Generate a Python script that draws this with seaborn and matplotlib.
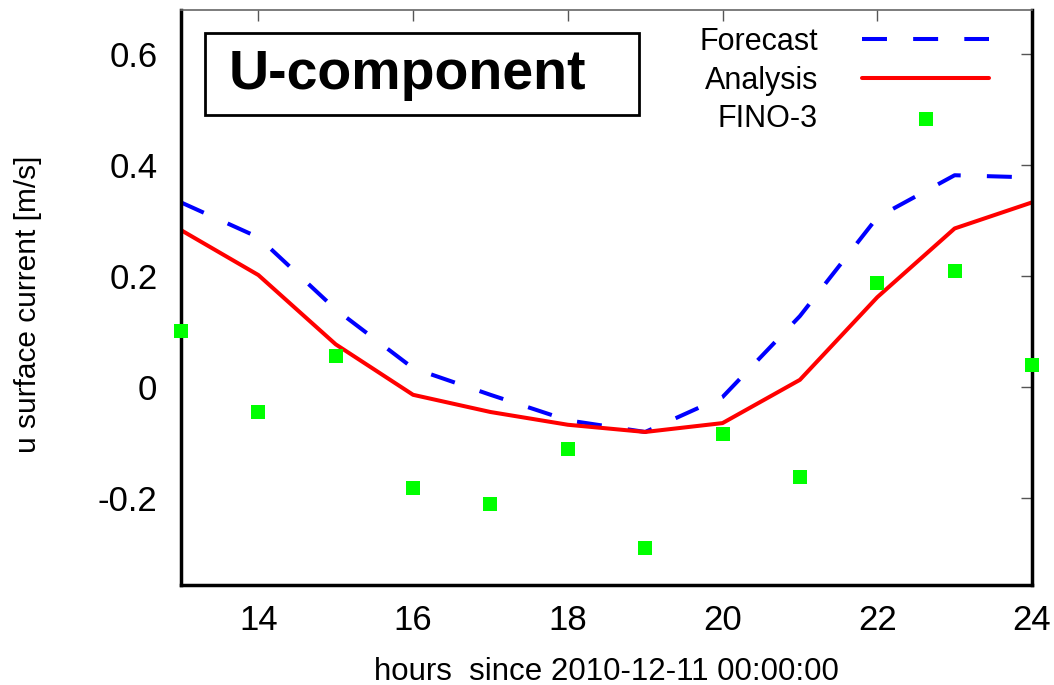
import matplotlib
matplotlib.use("Agg")
import matplotlib.pyplot as plt
import seaborn as sns
import pandas as pd
from matplotlib.patches import Rectangle

hours = [13, 14, 15, 16, 17, 18, 19, 20, 21, 22, 23, 24]
forecast = [0.333, 0.270, 0.140, 0.034, -0.014, -0.060, -0.081, -0.018, 0.128, 0.306, 0.382, 0.378]
analysis = [0.283, 0.202, 0.077, -0.014, -0.045, -0.068, -0.081, -0.065, 0.013, 0.162, 0.286, 0.333]
fino3 = [0.101, -0.045, 0.056, -0.182, -0.211, -0.112, -0.290, -0.085, -0.162, 0.187, 0.209, 0.040]
xticks = [14, 16, 18, 20, 22, 24]
yticks = [-0.2, 0, 0.2, 0.4, 0.6]
ytick_labels = ["-0.2", "0", "0.2", "0.4", "0.6"]

sns.set_theme(style="white")
plt.rcParams["font.family"] = ["Liberation Sans", "DejaVu Sans"]
plt.rcParams["text.color"] = "black"
plt.rcParams["axes.labelcolor"] = "black"

df = pd.DataFrame({"hours": hours, "Forecast": forecast, "Analysis": analysis, "FINO-3": fino3})

fig = plt.figure(figsize=(10.54, 6.85), dpi=100)
ax = fig.add_axes([181/1054, 100/685, (1032-181)/1054, (585-10)/685])

sns.lineplot(data=df, x="hours", y="Forecast", ax=ax, color="#0000ff", lw=2.9,
             label="Forecast")
ax.lines[-1].set_dashes((6.2, 6.5))
sns.lineplot(data=df, x="hours", y="Analysis", ax=ax, color="#ff0000", lw=2.9,
             label="Analysis")
sns.scatterplot(data=df, x="hours", y="FINO-3", ax=ax, color="#00ff00", marker="s",
                s=95, linewidth=0, label="FINO-3", clip_on=False, zorder=5)

ax.set_xlim(13, 24)
ax.set_ylim(-0.357, 0.68)
ax.set_xticks(xticks)
ax.set_yticks(yticks)
ax.set_yticklabels(ytick_labels)
ax.tick_params(axis="both", direction="in", length=8, width=1, color="#555555",
               labelsize=25, labelcolor="black", top=True, right=True,
               labeltop=False, labelright=False)
ax.tick_params(axis="x", pad=14)
ax.tick_params(axis="y", pad=17)

for side in ["left", "bottom", "right"]:
    ax.spines[side].set_color("black")
    ax.spines[side].set_linewidth(2.5)
ax.spines["top"].set_color("#666666")
ax.spines["top"].set_linewidth(1.2)

ax.set_xlabel("hours  since 2010-12-11 00:00:00", fontsize=22.5)
ax.set_ylabel("u surface current [m/s]", fontsize=21.5)
ax.xaxis.set_label_coords(0.5, -0.125)
ax.yaxis.set_label_coords(-0.163, 0.489)

ax.text(229/1054, (685-75)/685, "U-component", transform=fig.transFigure,
        fontsize=40, fontweight="bold", va="center", ha="left", color="black")
fig.patches.append(Rectangle((205/1054, (685-115)/685), (639-205)/1054, 82/685,
                             transform=fig.transFigure, fill=False, ec="black", lw=2))

leg = ax.legend(loc="upper right", bbox_to_anchor=(989/1054, 658/685),
                bbox_transform=fig.transFigure, markerfirst=False, frameon=False,
                fontsize=22, handlelength=4.15, handletextpad=1.45, labelspacing=0.28,
                borderaxespad=0, borderpad=0)

fig.savefig("out.png", dpi=100)
